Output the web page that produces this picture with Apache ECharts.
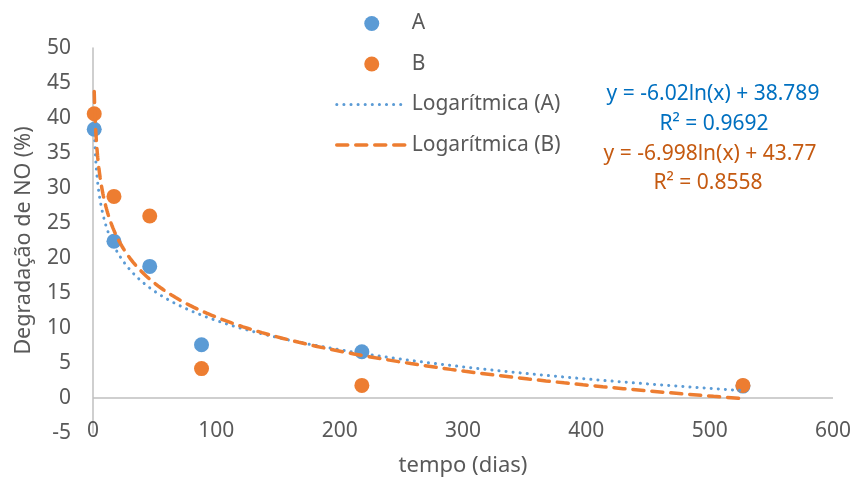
<!DOCTYPE html>
<html>
<head>
<meta charset="utf-8">
<script src="https://cdn.jsdelivr.net/npm/echarts@6/dist/echarts.min.js"></script>
<style>
  html, body { margin: 0; padding: 0; background: #fff; }
  #chart { width: 854px; height: 485px; }
</style>
</head>
<body>
<div id="chart"></div>
<script>
// days (x) and NO degradation (%)
var daysA = [1, 17, 46, 88, 218, 527];
var valsA = [38.4, 22.4, 18.8, 7.6, 6.6, 1.7];
var daysB = [1, 17, 46, 88, 218, 527];
var valsB = [40.6, 28.8, 26.0, 4.2, 1.8, 1.8];

// logarithmic trendlines as printed on the chart: y = a*ln(x) + b
var trendA = [-6.02, 38.789];
var trendB = [-6.998, 43.77];
var eqLabels = ['y = -6.02ln(x) + 38.789', 'R² = 0.9692', 'y = -6.998ln(x) + 43.77', 'R² = 0.8558'];

var font = 'Noto Sans';
var grey = '#595959';
var dotted = { color: '#5b9bd5', width: 3, type: [0.1, 7], cap: 'round' };
var dashed = { color: '#ed7d31', width: 3.5, type: [11, 8], cap: 'round' };

function pairs(xs, ys) {
  return xs.map(function (x, i) { return [x, ys[i]]; });
}

function trendCurve(coef, x0, x1) {
  var pts = [];
  var x = x0;
  while (x < x1) {
    pts.push([x, coef[0] * Math.log(x) + coef[1]]);
    x = x * 1.04 + 0.05;
  }
  pts.push([x1, coef[0] * Math.log(x1) + coef[1]]);
  return pts;
}

var chart = echarts.init(document.getElementById('chart'));

var option = {
  animation: false,
  textStyle: { fontFamily: font },
  grid: { left: 93, right: 21, top: 48, bottom: 52, containLabel: false },
  legend: {
    orient: 'vertical',
    left: 335,
    top: 13,
    padding: 0,
    itemWidth: 70,
    itemHeight: 15,
    itemGap: 19.5,
    textStyle: { color: grey, fontSize: 21, fontFamily: font },
    data: [
      { name: 'A', icon: 'circle' },
      { name: 'B', icon: 'circle' },
      { name: 'Logarítmica (A)', itemStyle: { opacity: 0 }, lineStyle: dotted },
      { name: 'Logarítmica (B)', itemStyle: { opacity: 0 }, lineStyle: dashed }
    ]
  },
  xAxis: {
    type: 'value',
    min: 0, max: 600, interval: 100,
    name: 'tempo (dias)',
    nameLocation: 'middle',
    nameGap: 22,
    nameTextStyle: { color: grey, fontSize: 22, verticalAlign: 'top' },
    axisLine: { show: false },
    axisTick: { show: false },
    splitLine: { show: false },
    axisLabel: { color: grey, fontSize: 21, margin: -2, verticalAlign: 'middle' }
  },
  yAxis: {
    type: 'value',
    min: -5, max: 50, interval: 5,
    name: 'Degradação de NO (%)',
    nameLocation: 'middle',
    nameGap: 58,
    nameTextStyle: { color: grey, fontSize: 21.5 },
    axisLine: { show: true, lineStyle: { color: '#bfbfbf', width: 1.5 } },
    axisTick: { show: false },
    splitLine: { show: false },
    axisLabel: { color: grey, fontSize: 21, margin: 22 }
  },
  series: [
    {
      name: 'A', type: 'scatter', symbolSize: 15,
      itemStyle: { color: '#5b9bd5', opacity: 1 },
      data: pairs(daysA, valsA),
      markLine: {
        silent: true, symbol: 'none', label: { show: false },
        lineStyle: { color: '#bfbfbf', width: 1.5, type: 'solid' },
        data: [{ yAxis: 0 }]
      },
      z: 2
    },
    {
      name: 'B', type: 'scatter', symbolSize: 15,
      itemStyle: { color: '#ed7d31', opacity: 1 },
      data: pairs(daysB, valsB),
      z: 3
    },
    {
      name: 'Logarítmica (A)', type: 'line', showSymbol: false, symbol: 'none',
      itemStyle: { color: '#5b9bd5' },
      lineStyle: dotted,
      data: trendCurve(trendA, 1, 527),
      z: 4
    },
    {
      name: 'Logarítmica (B)', type: 'line', showSymbol: false, symbol: 'none',
      itemStyle: { color: '#ed7d31' },
      lineStyle: dashed,
      data: trendCurve(trendB, 1, 527),
      z: 5
    }
  ],
  graphic: [
    { type: 'text', x: 713, y: 94, style: { text: eqLabels[0], fill: '#0070c0', font: '21px "Noto Sans"', align: 'center', verticalAlign: 'middle' } },
    { type: 'text', x: 714, y: 124, style: { text: eqLabels[1], fill: '#0070c0', font: '21px "Noto Sans"', align: 'center', verticalAlign: 'middle' } },
    { type: 'text', x: 710, y: 154, style: { text: eqLabels[2], fill: '#c55a11', font: '21px "Noto Sans"', align: 'center', verticalAlign: 'middle' } },
    { type: 'text', x: 708, y: 183, style: { text: eqLabels[3], fill: '#c55a11', font: '21px "Noto Sans"', align: 'center', verticalAlign: 'middle' } }
  ]
};

chart.setOption(option);
</script>
</body>
</html>
